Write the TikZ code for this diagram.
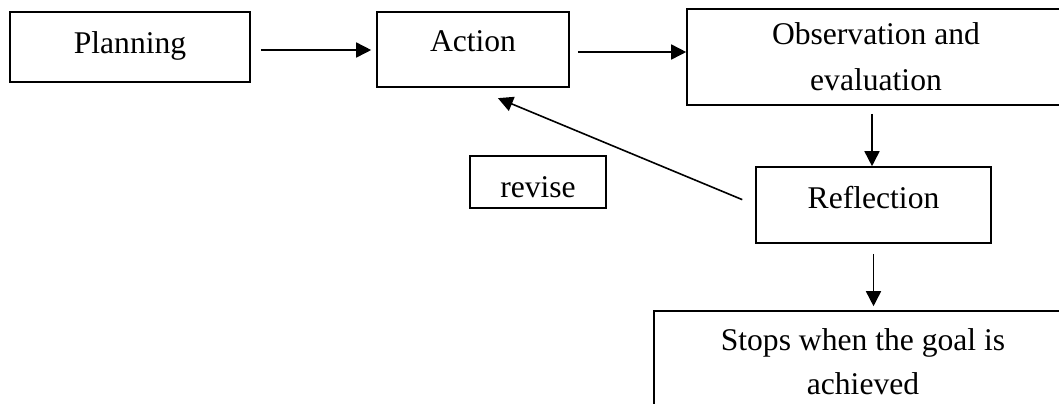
\documentclass[tikz,border=0pt]{standalone}
\usepackage{fontspec}
\setmainfont{Liberation Serif}
\usetikzlibrary{arrows.meta}
\begin{document}
\begin{tikzpicture}[x=0.5pt,y=-0.5pt,
  box/.style={draw=black, line width=0.8pt, inner sep=0pt, font=\fontsize{15.8}{22.5}\selectfont, align=center},
  arr/.style={draw=black, line width=0.8pt, -{Triangle[length=7.5pt,width=7.5pt]}}]
\useasboundingbox (0,0) rectangle (1059,403);
\clip (0,0) rectangle (1059,403);
\fill[white] (0,0) rectangle (1059,403);
\node[box, minimum width=120pt, minimum height=35pt, text height=11pt, text depth=4.7pt] (P) at (130,47) {Planning};
\node[box, minimum width=96pt, minimum height=37.5pt, text height=11pt, text depth=8.8pt] (A) at (473,49.5) {Action};
\node[box, minimum width=189pt, minimum height=48pt, font=\fontsize{15.8}{23}\selectfont] (O) at (876,57) {Observation and\\evaluation};
\node[box, minimum width=117.5pt, minimum height=38pt, text height=11pt, text depth=8pt] (R) at (873.5,205) {Reflection};
\node[box, minimum width=68pt, minimum height=26pt, text height=15pt, text depth=0pt] (V) at (538,182) {revise};
\node[box, minimum width=209pt, minimum height=51pt, font=\fontsize{15.8}{22}\selectfont] (S) at (863,362) {Stops when the goal is\\achieved};
\draw[arr, shorten <=5pt, shorten >=2.5pt] (P.east |- 0,50) -- (A.west |- 0,50);
\draw[arr, shorten <=4pt] (A.east |- 0,52) -- (O.west |- 0,52);
\draw[arr, shorten <=4pt] (872,0 |- O.south) -- (872,0 |- R.north);
\draw[arr, shorten <=7pt, shorten >=13.5pt] (R.west) -- (A.south);
\draw[arr, shorten <=5pt, shorten >=2pt] (R.south) -- (R.south |- S.north);
\end{tikzpicture}
\end{document}
